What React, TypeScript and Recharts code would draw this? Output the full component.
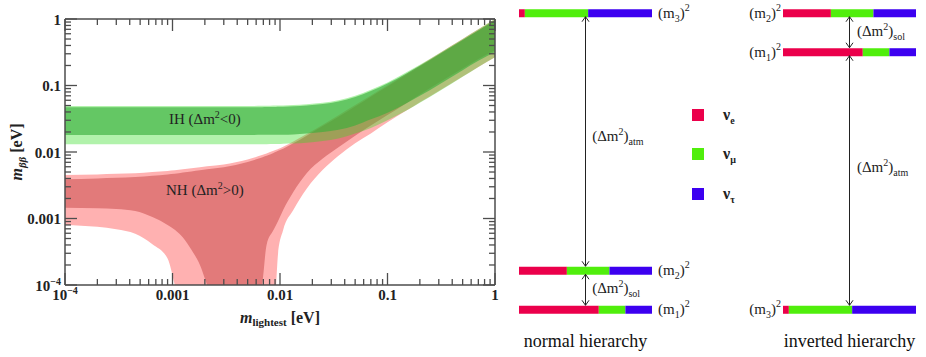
import React from 'react';
import { ComposedChart, Area, XAxis, YAxis, ReferenceDot, BarChart, Bar, ReferenceLine, Legend } from 'recharts';

const FONT = '"Liberation Serif", "Times New Roman", serif';
const INK = '#222';
const FRAME = '#4d4d4d';

// m_lightest samples [eV]
const mLightest = [1e-4, 2e-4, 3e-4, 4.5e-4, 6.5e-4, 9e-4, 0.00105, 0.00125, 0.0015, 0.0018, 0.0021, 0.003, 0.005, 0.0068, 0.0075, 0.0087, 0.0092, 0.0096, 0.0107, 0.0133, 0.0177, 0.025, 0.035, 0.05, 0.07, 0.1, 0.15, 0.2, 0.3, 0.5, 0.7, 1];

// normal hierarchy band (3 sigma = outer, best fit = inner); 3e-5 means "below the plot"
const nhOuterLo = [0.0008, 0.00075, 0.00069, 0.00059, 0.00041, 0.00025, 0.0001, 0.00003, 0.00003, 0.00003, 0.00003, 0.00003, 0.00003, 0.00003, 0.00003, 0.00003, 0.0001, 0.0003, 0.00067, 0.00134, 0.0028, 0.0054, 0.0088, 0.0135, 0.019, 0.028, 0.042, 0.056, 0.083, 0.137, 0.19, 0.265];
const nhOuterHi = [0.0045, 0.0046, 0.0047, 0.0048, 0.005, 0.0052, 0.0053, 0.0055, 0.0057, 0.0059, 0.0061, 0.0065, 0.0077, 0.009, 0.0095, 0.0104, 0.0108, 0.0111, 0.012, 0.0144, 0.0186, 0.0258, 0.0358, 0.0508, 0.0708, 0.1007, 0.1505, 0.2005, 0.3003, 0.5, 0.7, 1.0];
const nhInnerLo = [0.00145, 0.00142, 0.00139, 0.0013, 0.00105, 0.0008, 0.00068, 0.00052, 0.00034, 0.0002, 0.0001, 0.00003, 0.00003, 0.0001, 0.0004, 0.00067, 0.0008, 0.00092, 0.00134, 0.0025, 0.0048, 0.008, 0.0118, 0.0176, 0.025, 0.036, 0.054, 0.073, 0.11, 0.18, 0.25, 0.34];
const nhInnerHi = [0.0039, 0.004, 0.0041, 0.0042, 0.0044, 0.0046, 0.0047, 0.0049, 0.0051, 0.0053, 0.0055, 0.0059, 0.0071, 0.0083, 0.0088, 0.0097, 0.0101, 0.0104, 0.0112, 0.0135, 0.0176, 0.0245, 0.034, 0.0485, 0.068, 0.097, 0.145, 0.193, 0.29, 0.48, 0.67, 0.96];

// inverted hierarchy band
const ihOuterLo = [0.0131, 0.0131, 0.0131, 0.0131, 0.0131, 0.0131, 0.0131, 0.0131, 0.0131, 0.0131, 0.0131, 0.0131, 0.0131, 0.0131, 0.0131, 0.0132, 0.0132, 0.0132, 0.0133, 0.0134, 0.0138, 0.0146, 0.016, 0.019, 0.023, 0.03, 0.042, 0.055, 0.081, 0.135, 0.19, 0.265];
const ihOuterHi = [0.049, 0.049, 0.049, 0.049, 0.049, 0.049, 0.049, 0.049, 0.049, 0.049, 0.049, 0.049, 0.049, 0.0495, 0.0495, 0.05, 0.05, 0.0501, 0.0502, 0.0507, 0.0521, 0.0548, 0.06, 0.07, 0.086, 0.111, 0.158, 0.206, 0.304, 0.502, 0.702, 1.0];
const ihInnerLo = [0.018, 0.018, 0.018, 0.018, 0.018, 0.018, 0.018, 0.018, 0.018, 0.018, 0.018, 0.018, 0.018, 0.0181, 0.0181, 0.0182, 0.0182, 0.0182, 0.0182, 0.0184, 0.019, 0.02, 0.0216, 0.025, 0.031, 0.039, 0.054, 0.07, 0.103, 0.17, 0.235, 0.32];
const ihInnerHi = [0.047, 0.047, 0.047, 0.047, 0.047, 0.047, 0.047, 0.047, 0.047, 0.047, 0.047, 0.047, 0.047, 0.0472, 0.0473, 0.0476, 0.0477, 0.0478, 0.048, 0.0486, 0.05, 0.0526, 0.0576, 0.067, 0.0825, 0.107, 0.152, 0.198, 0.292, 0.482, 0.674, 0.96];

const decades = [1e-4, 1e-3, 1e-2, 1e-1, 1];
const decadeLabels = ['10^-4', '0.001', '0.01', '0.1', '1'];
const minorSteps = [2, 3, 4, 5, 6, 7, 8, 9];

// flavour content of the mass states m1, m2, m3
const massStates = ['1', '2', '3'];
const nuEShare = [0.6, 0.36, 0.044];
const nuMuShare = [0.2, 0.32, 0.476];
const nuTauShare = [0.2, 0.32, 0.48];
const normalLevels = [0, 1, 7.6];
const invertedLevels = [6.6, 7.6, 0];

const flavours = ['e', 'μ', 'τ'];
const flavourColors = ['#eb004b', '#50ee0c', '#3c00f0'];

const logTicks = decades.flatMap((d, i) => (i < decades.length - 1 ? [d, ...minorSteps.map((k) => k * d)] : [d]));

const plotData = mLightest.map((m, i) => ({
  m,
  nhOuter: [nhOuterLo[i], nhOuterHi[i]],
  nhInner: [nhInnerLo[i], nhInnerHi[i]],
  ihOuter: [ihOuterLo[i], ihOuterHi[i]],
  ihInner: [ihInnerLo[i], ihInnerHi[i]],
}));

const rowsFor = (levels: number[]) =>
  massStates.map((s, i) => ({ state: s, level: levels[i], e: nuEShare[i], mu: nuMuShare[i], tau: nuTauShare[i] }));

const decadeIndex = (v: number) => decades.findIndex((d) => Math.abs(Math.log10(v / d)) < 1e-6);

function TickText({ x, y, anchor, label }: any) {
  const [base, exp] = label.split('^');
  return (
    <text x={x} y={y} textAnchor={anchor} fontFamily={FONT} fontWeight="bold" fontSize={15} fill={INK}>
      {base}
      {exp && (
        <tspan dy={-6} fontSize={10}>
          {exp.replace('-', '−')}
        </tspan>
      )}
    </text>
  );
}

function AxisTick({ x, y, payload, side }: any) {
  const i = decadeIndex(payload.value);
  const len = i >= 0 ? 12 : 6;
  let line;
  if (side === 'bottom') line = <line x1={x} y1={y} x2={x} y2={y - len} />;
  else if (side === 'top') line = <line x1={x} y1={y} x2={x} y2={y + len} />;
  else if (side === 'left') line = <line x1={x} y1={y} x2={x + len} y2={y} />;
  else line = <line x1={x} y1={y} x2={x - len} y2={y} />;
  return (
    <g>
      <g stroke={FRAME} strokeWidth={1.3}>{line}</g>
      {i >= 0 && side === 'bottom' && <TickText x={x} y={y + 15} anchor="middle" label={decadeLabels[i]} />}
      {i >= 0 && side === 'left' && <TickText x={x - 4} y={y + 5.5} anchor="end" label={decadeLabels[i]} />}
    </g>
  );
}

function XTitle({ viewBox }: any) {
  const cx = viewBox.x + viewBox.width / 2;
  const cy = viewBox.y + 38;
  return (
    <text x={cx} y={cy} textAnchor="middle" fontFamily={FONT} fontWeight="bold" fontSize={16} fill={INK}>
      <tspan fontStyle="italic">m</tspan>
      <tspan fontSize={11} dy={3}>lightest</tspan>
      <tspan dy={-3}> [eV]</tspan>
    </text>
  );
}

function YTitle({ viewBox }: any) {
  const cx = viewBox.x + 22;
  const cy = viewBox.y + viewBox.height / 2;
  return (
    <text x={cx} y={cy} transform={`rotate(-90 ${cx} ${cy})`} textAnchor="middle" fontFamily={FONT} fontWeight="bold" fontSize={16} fill={INK}>
      <tspan fontStyle="italic">m</tspan>
      <tspan fontStyle="italic" fontSize={11} dy={4}>ββ</tspan>
      <tspan dy={-4}> [eV]</tspan>
    </text>
  );
}

const bandNote = (name: string, sign: string) => (p: any) => (
  <text x={p.cx} y={p.cy} textAnchor="middle" fontFamily={FONT} fontSize={15} fill={INK}>
    {name} (Δm
    <tspan dy={-6} fontSize={10}>2</tspan>
    <tspan dy={6}>{sign}0)</tspan>
  </text>
);

const logAxis = { type: 'number' as const, scale: 'log' as const, domain: [1e-4, 1], allowDataOverflow: true, ticks: logTicks, interval: 0, tickSize: 0, tickMargin: 0, tickLine: false, axisLine: { stroke: FRAME, strokeWidth: 1.5 } };

function MassPlot() {
  return (
    <ComposedChart width={500} height={357} data={plotData} margin={{ top: 18, right: 0, bottom: 0, left: 0 }}>
      <XAxis xAxisId="b" dataKey="m" {...logAxis} height={72} tick={(p: any) => <AxisTick {...p} side="bottom" />} label={{ content: (p: any) => <XTitle {...p} /> }} />
      <XAxis xAxisId="t" dataKey="m" orientation="top" {...logAxis} height={1} tick={(p: any) => <AxisTick {...p} side="top" />} />
      <YAxis yAxisId="l" {...logAxis} width={65} tick={(p: any) => <AxisTick {...p} side="left" />} label={{ content: (p: any) => <YTitle {...p} /> }} />
      <YAxis yAxisId="r" orientation="right" {...logAxis} width={5} tick={(p: any) => <AxisTick {...p} side="right" />} />
      <Area xAxisId="b" yAxisId="l" type="monotone" dataKey="nhOuter" stroke="none" fill="#ffb1b1" fillOpacity={1} isAnimationActive={false} />
      <Area xAxisId="b" yAxisId="l" type="monotone" dataKey="nhInner" stroke="none" fill="#e27a7a" fillOpacity={1} isAnimationActive={false} />
      <Area xAxisId="b" yAxisId="l" type="monotone" dataKey="ihOuter" stroke="none" fill="#33dd22" fillOpacity={0.38} isAnimationActive={false} />
      <Area xAxisId="b" yAxisId="l" type="monotone" dataKey="ihInner" stroke="none" fill="#37af3a" fillOpacity={0.63} isAnimationActive={false} />
      <ReferenceDot xAxisId="b" yAxisId="l" x={0.002} y={0.0265} r={0} shape={bandNote('IH', '<')} />
      <ReferenceDot xAxisId="b" yAxisId="l" x={0.002} y={0.00225} r={0} shape={bandNote('NH', '>')} />
    </ComposedChart>
  );
}

function DoubleArrow({ x1, y1, x2, y2 }: any) {
  const dir = Math.sign(y2 - y1) || 1;
  const ya = y1 + dir * 4;
  const yb = y2 - dir * 4;
  const head = 5;
  const half = 3.5;
  return (
    <g stroke={INK} strokeWidth={1} fill="none">
      <line x1={x1} y1={ya} x2={x2} y2={yb} />
      <polyline points={`${x1 - half},${ya + dir * head} ${x1},${ya} ${x1 + half},${ya + dir * head}`} />
      <polyline points={`${x2 - half},${yb - dir * head} ${x2},${yb} ${x2 + half},${yb - dir * head}`} />
    </g>
  );
}

const deltaNote = (kind: string) => (p: any) => (
  <text x={p.cx} y={p.cy} fontFamily={FONT} fontSize={15} fill={INK}>
    (Δm
    <tspan dy={-6} fontSize={10}>2</tspan>
    <tspan dy={6}>)</tspan>
    <tspan dy={4} fontSize={10}>{kind}</tspan>
  </text>
);

function LevelTick({ x, y, payload, levels, side }: any) {
  const i = levels.indexOf(payload.value);
  return (
    <text x={side === 'right' ? x + 6 : x - 2} y={y + 5} textAnchor={side === 'right' ? 'start' : 'end'} fontFamily={FONT} fontSize={15} fill={INK}>
      (m
      <tspan dy={4} fontSize={10}>{massStates[i]}</tspan>
      <tspan dy={-4}>)</tspan>
      <tspan dy={-7} fontSize={10}>2</tspan>
    </text>
  );
}

function Title({ viewBox, text }: any) {
  return (
    <text x={viewBox.x + viewBox.width / 2} y={viewBox.y + viewBox.height - 10} textAnchor="middle" fontFamily={FONT} fontSize={18} fill="#111">
      {text}
    </text>
  );
}

function FlavourLegend() {
  return (
    <div style={{ position: 'relative', width: 60, height: 100, fontFamily: FONT }}>
      {flavours.map((f, i) => (
        <div key={f} style={{ position: 'absolute', left: 0, top: 6 + i * 39.3, height: 12, display: 'flex', alignItems: 'center' }}>
          <span style={{ width: 12, height: 12, background: flavourColors[i], display: 'inline-block' }} />
          <span style={{ marginLeft: 19, fontSize: 16, fontWeight: 'bold', color: INK, lineHeight: '12px' }}>
            ν<sub style={{ fontSize: 10, lineHeight: 0 }}>{f}</sub>
          </span>
        </div>
      ))}
    </div>
  );
}

function Hierarchy({ levels, title, side, width, margin, arrows, notes, legend }: any) {
  return (
    <BarChart width={width} height={357} data={rowsFor(levels)} layout="vertical" margin={margin} barSize={8}>
      <XAxis type="number" domain={[0, 1]} tick={false} tickLine={false} axisLine={false} height={36} label={{ content: (p: any) => <Title {...p} text={title} /> }} />
      <YAxis
        type="number"
        dataKey="level"
        orientation={side}
        domain={[-0.3, 7.9]}
        reversed
        allowDataOverflow
        ticks={levels}
        interval={0}
        width={side === 'right' ? 50 : 38}
        axisLine={false}
        tickLine={false}
        tickSize={0}
        tickMargin={0}
        tick={(p: any) => <LevelTick {...p} levels={levels} side={side} />}
      />
      <Bar dataKey="e" name="e" stackId="f" fill={flavourColors[0]} isAnimationActive={false} />
      <Bar dataKey="mu" name="μ" stackId="f" fill={flavourColors[1]} isAnimationActive={false} />
      <Bar dataKey="tau" name="τ" stackId="f" fill={flavourColors[2]} isAnimationActive={false} />
      {arrows.map((a: number[], i: number) => (
        <ReferenceLine key={i} segment={[{ x: 0.5, y: a[0] }, { x: 0.5, y: a[1] }]} shape={(p: any) => <DoubleArrow {...p} />} />
      ))}
      {notes.map((n: any, i: number) => (
        <ReferenceDot key={i} x={n.x} y={n.y} r={0} shape={deltaNote(n.kind)} />
      ))}
      {legend && (
        <Legend layout="vertical" align="center" verticalAlign="middle" wrapperStyle={{ left: 187, top: 103, width: 60, height: 100 }} content={() => <FlavourLegend />} />
      )}
    </BarChart>
  );
}

export default function App() {
  return (
    <div style={{ position: 'absolute', left: 0, top: 0, width: 926, height: 357, background: '#fff' }}>
      <div style={{ position: 'absolute', left: 0, top: 0 }}>
        <MassPlot />
      </div>
      <div style={{ position: 'absolute', left: 505, top: 0 }}>
        <Hierarchy
          levels={normalLevels}
          title="normal hierarchy"
          side="right"
          width={240}
          margin={{ top: 1, right: 43, bottom: 0, left: 14 }}
          arrows={[[1, 7.6], [0, 1]]}
          notes={[{ x: 0.55, y: 4.31, kind: 'atm' }, { x: 0.55, y: 0.41, kind: 'sol' }]}
          legend
        />
      </div>
      <div style={{ position: 'absolute', left: 745, top: 0 }}>
        <Hierarchy
          levels={invertedLevels}
          title="inverted hierarchy"
          side="left"
          width={181}
          margin={{ top: 1, right: 10, bottom: 0, left: 0 }}
          arrows={[[6.6, 7.6], [0, 6.6]]}
          notes={[{ x: 0.556, y: 7.0, kind: 'sol' }, { x: 0.556, y: 3.51, kind: 'atm' }]}
        />
      </div>
    </div>
  );
}
